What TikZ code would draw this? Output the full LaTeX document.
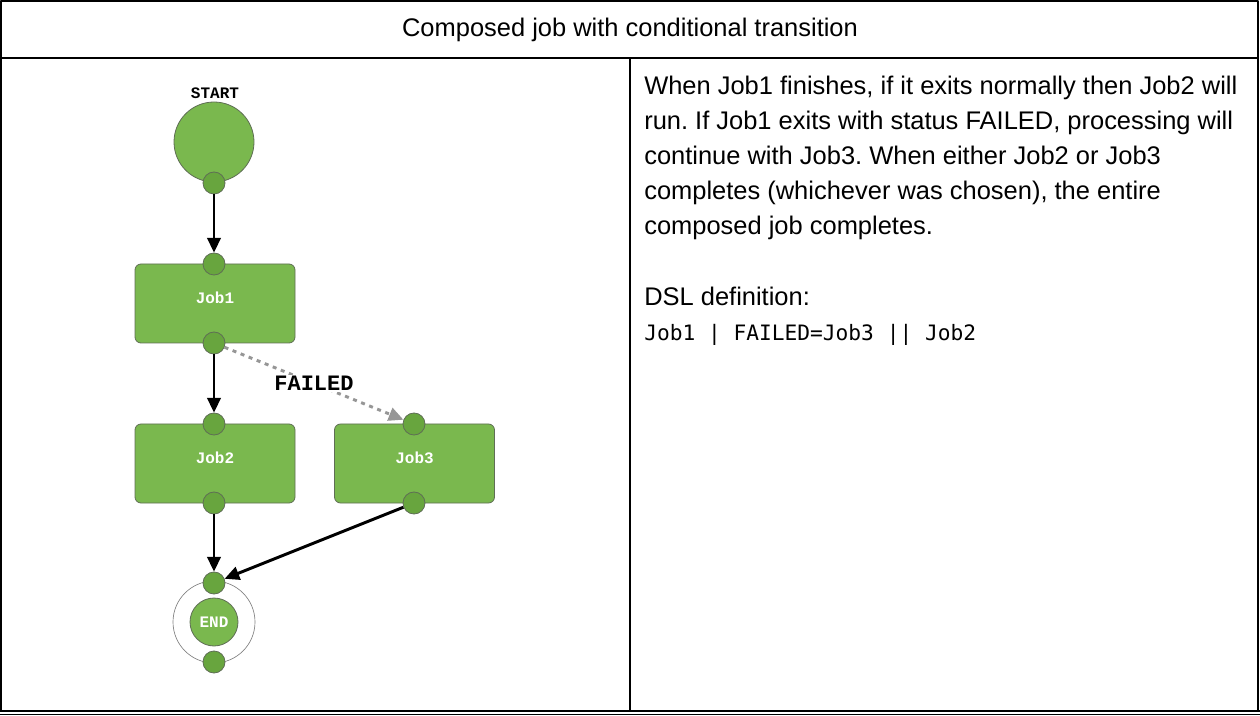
\documentclass[tikz,border=0pt]{standalone}
\usepackage{fontspec}
\setmainfont{Liberation Sans}
\setmonofont{DejaVu Sans Mono}
\newfontfamily\slabfont{Liberation Mono}
\usetikzlibrary{arrows.meta}
\frenchspacing
\definecolor{jobgreen}{RGB}{122,184,78}
\definecolor{portgreen}{RGB}{104,165,62}
\definecolor{edgegray}{RGB}{95,110,85}
\definecolor{failgray}{RGB}{150,150,150}
\tikzset{
  job/.style={draw=edgegray,fill=jobgreen,rounded corners=4.5pt,minimum width=120pt,minimum height=59.25pt,line width=0.6pt,text=white,text depth=8pt,font=\slabfont\bfseries\fontsize{12}{12}\selectfont},
  port/.style={circle,draw=edgegray,fill=portgreen,minimum size=16.5pt,inner sep=0pt,line width=0.6pt},
  flow/.style={->,line width=2.2pt},
  failflow/.style={->,line width=2.2pt,draw=failgray,dash pattern=on 3pt off 3.5pt},
  desc/.style={anchor=base west,inner sep=0pt,font=\fontsize{19.1}{19.1}\selectfont}
}
\begin{document}
\begin{tikzpicture}[x=0.75pt,y=-0.75pt,>={Triangle[length=11pt,width=10pt]},line join=round]
  \useasboundingbox (0,0) rectangle (1260,716);
  % table frame
  \draw[line width=1.2pt] (1,711) -- (1,1) -- (1258,1) -- (1258,711);
  \draw[line width=1.2pt] (0,711) -- (1260,711);
  \draw[line width=1.2pt] (0,714.5) -- (1260,714.5);
  \draw[line width=1.2pt] (1,58) -- (1258,58);
  \draw[line width=0.8pt] (630,58) -- (630,711);
  \node[desc,anchor=base] (title) at (630,37) {Composed job with conditional transition};
  % flow diagram
  \node[font=\slabfont\bfseries\fontsize{12}{12}\selectfont] (startlbl) at (215,93) {START};
  \node[circle,draw=edgegray,fill=jobgreen,minimum size=60pt,inner sep=0pt,line width=0.6pt] (start) at (214,142) {};
  \node[port] (startout) at (214,183) {};
  \node[job] (j1) at (215,303.5) {Job1};
  \node[job] (j2) at (215,463.5) {Job2};
  \node[job] (j3) at (414.5,463.5) {Job3};
  \node[port] (j1in) at (214,264) {};
  \node[port] (j1out) at (214,343) {};
  \node[port] (j2in) at (214,424) {};
  \node[port] (j2out) at (214,503) {};
  \node[port] (j3in) at (414,424) {};
  \node[port] (j3out) at (414,503) {};
  \node[circle,draw=gray,line width=0.5pt,fill=white,minimum size=61.5pt,inner sep=0pt] (endring) at (214,622) {};
  \node[circle,draw=edgegray,fill=jobgreen,minimum size=36pt,inner sep=0pt,line width=0.6pt,text=white,font=\slabfont\bfseries\fontsize{12}{12}\selectfont] (end) at (214,622) {END};
  \node[port] (endin) at (214,583) {};
  \node[port] (endout) at (214,662) {};
  \draw[flow] (startout) -- (j1in);
  \draw[flow] (j1out) -- (j2in);
  \draw[failflow] (j1out) -- (j3in) node[midway,fill=white,inner sep=1pt,text=black,font=\slabfont\bfseries\fontsize{16.5}{16.5}\selectfont] (faillbl) {FAILED};
  \draw[flow] (j2out) -- (endin);
  \draw[flow] (j3out) -- (endin);
  % description
  \node[desc] (d1) at (644,95) {When Job1 finishes, if it exits normally then Job2 will};
  \node[desc] (d2) at (644,130) {run. If Job1 exits with status FAILED, processing will};
  \node[desc] (d3) at (644,165) {continue with Job3. When either Job2 or Job3};
  \node[desc] (d4) at (644,200) {completes (whichever was chosen), the entire};
  \node[desc] (d5) at (644,235) {composed job completes.};
  \node[desc] (dsl) at (644,306) {DSL definition:};
  \node[desc,font=\ttfamily\fontsize{15.9}{15.9}\selectfont] (dslcode) at (644,341) {Job1 | FAILED=Job3 || Job2};
\end{tikzpicture}
\end{document}
